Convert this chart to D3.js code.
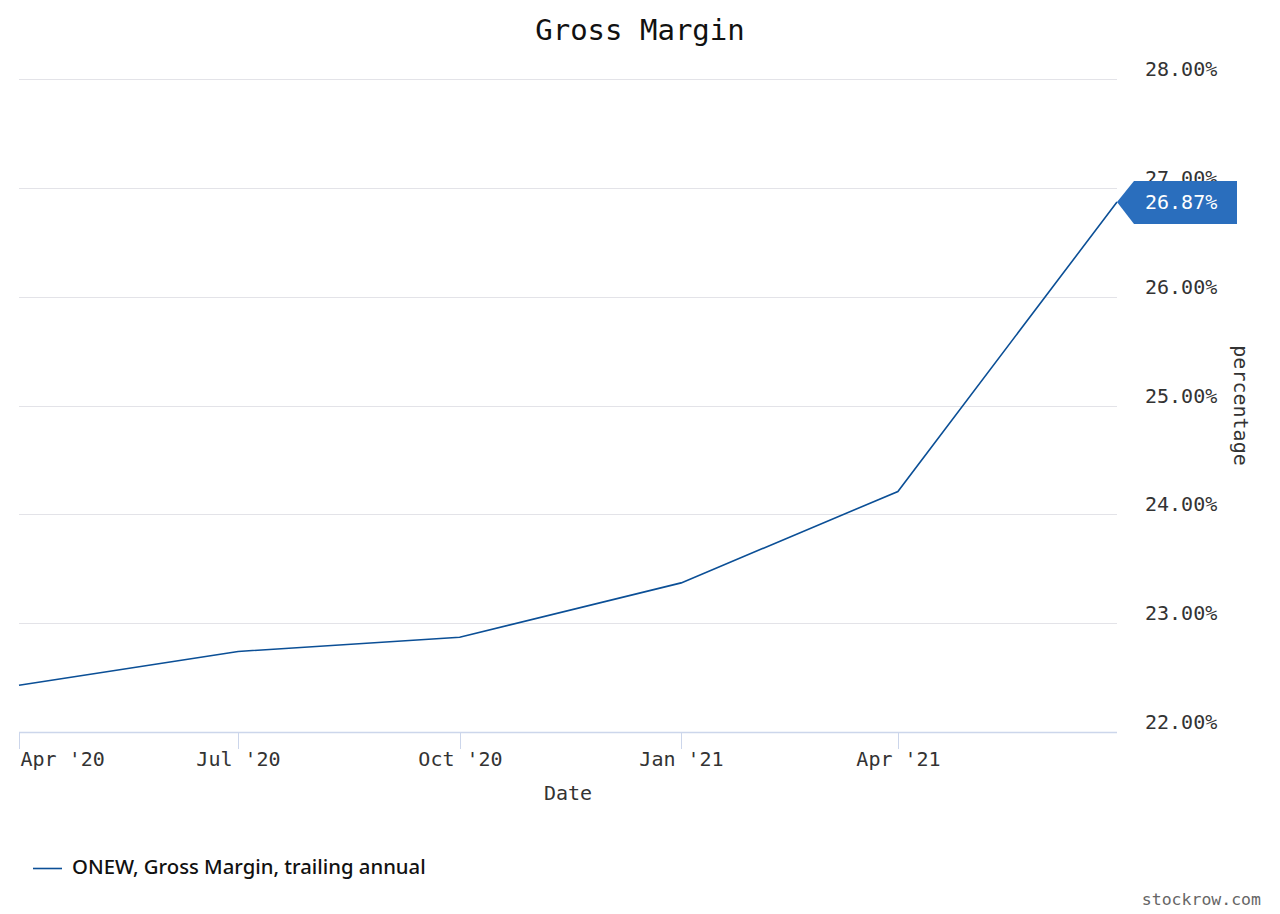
<!DOCTYPE html>
<html>
<head>
<meta charset="utf-8">
<script src="https://cdn.jsdelivr.net/npm/d3@7"></script>
<style>
  html, body { margin: 0; padding: 0; background: #fff; }
  svg { display: block; }
</style>
</head>
<body>
<svg id="chart" width="1280" height="914"></svg>
<script>
// ---- data ----
const dates = ["2020-04-01", "2020-07-01", "2020-10-01", "2021-01-01", "2021-04-01", "2021-07-01"];
const grossMargin = [22.43, 22.74, 22.87, 23.37, 24.21, 26.87];
const yTicks = [22, 23, 24, 25, 26, 27, 28];
const xTickDates = ["2020-04-01", "2020-07-01", "2020-10-01", "2021-01-01", "2021-04-01"];
const xTickLabels = ["Apr '20", "Jul '20", "Oct '20", "Jan '21", "Apr '21"];
const seriesName = "ONEW, Gross Margin, trailing annual";
const lastLabel = "26.87%";

(function () {
const parse = d3.utcParse("%Y-%m-%d");
const data = dates.map((d, i) => ({ date: parse(d), value: grossMargin[i] }));

const mono = "'DejaVu Sans Mono', 'Liberation Mono', monospace";
const svg = d3.select("#chart");

const pLeft = 19, pRight = 1117, pTop = 79, pBottom = 732;

const x = d3.scaleUtc()
  .domain([parse("2020-04-01"), parse("2021-07-01")])
  .range([pLeft, pRight]);
const y = d3.scaleLinear().domain([22, 28]).range([pBottom, pTop]);

// title
svg.append("text")
  .attr("x", 640).attr("y", 40)
  .attr("text-anchor", "middle")
  .attr("font-family", mono).attr("font-size", 29)
  .attr("fill", "#111")
  .text("Gross Margin");

// gridlines
svg.append("g").selectAll("line")
  .data(yTicks.filter(t => t !== 22))
  .join("line")
  .attr("x1", pLeft).attr("x2", pRight)
  .attr("y1", d => Math.round(y(d)) + 0.5).attr("y2", d => Math.round(y(d)) + 0.5)
  .attr("stroke", "#e3e3e8").attr("stroke-width", 1);

// y labels (right)
svg.append("g").selectAll("text")
  .data(yTicks)
  .join("text")
  .attr("x", 1145)
  .attr("y", d => y(d) - 3)
  .attr("font-family", mono).attr("font-size", 20)
  .attr("fill", "#333")
  .text(d => d3.format(".2f")(d) + "%");

// x axis line
svg.append("line")
  .attr("x1", pLeft).attr("x2", pRight)
  .attr("y1", pBottom + 0.5).attr("y2", pBottom + 0.5)
  .attr("stroke", "#ccd6eb").attr("stroke-width", 1.5);

// x ticks
const xt = svg.append("g");
xTickDates.forEach((d, i) => {
  const px = Math.round(x(parse(d))) + 0.5;
  xt.append("line")
    .attr("x1", px).attr("x2", px)
    .attr("y1", pBottom).attr("y2", pBottom + 17)
    .attr("stroke", "#ccd6eb").attr("stroke-width", 1);
  xt.append("text")
    .attr("x", i === 0 ? px + 1 : px)
    .attr("y", 766)
    .attr("text-anchor", i === 0 ? "start" : "middle")
    .attr("font-family", mono).attr("font-size", 20)
    .attr("fill", "#333")
    .text(xTickLabels[i]);
});

// x axis title
svg.append("text")
  .attr("x", (pLeft + pRight) / 2).attr("y", 800)
  .attr("text-anchor", "middle")
  .attr("font-family", mono).attr("font-size", 20)
  .attr("fill", "#333")
  .text("Date");

// y axis title
svg.append("text")
  .attr("transform", `translate(1234, ${(pTop + pBottom) / 2}) rotate(90)`)
  .attr("text-anchor", "middle")
  .attr("font-family", mono).attr("font-size", 20)
  .attr("fill", "#333")
  .text("percentage");

// line
const line = d3.line().x(d => x(d.date)).y(d => y(d.value));
svg.append("path")
  .datum(data)
  .attr("fill", "none")
  .attr("stroke", "#0b4f96")
  .attr("stroke-width", 1.6)
  .attr("d", line);

// last value label
const last = data[data.length - 1];
const lx = x(last.date), ly = y(last.value);
svg.append("path")
  .attr("d", `M${lx},${ly} L${lx + 17},${ly - 21} L1237,${ly - 21} L1237,${ly + 22} L${lx + 17},${ly + 22} Z`)
  .attr("fill", "#2a6ebd");
svg.append("text")
  .attr("x", 1145).attr("y", ly + 7)
  .attr("font-family", mono).attr("font-size", 20)
  .attr("fill", "#fff")
  .text(lastLabel);

// legend
svg.append("line")
  .attr("x1", 33).attr("x2", 62)
  .attr("y1", 868.5).attr("y2", 868.5)
  .attr("stroke", "#0b4f96").attr("stroke-width", 1.6);
svg.append("text")
  .attr("x", 72).attr("y", 874)
  .attr("font-family", "'Noto Sans', 'Open Sans', sans-serif")
  .attr("font-size", 20.3).attr("font-weight", 500)
  .attr("fill", "#111")
  .text(seriesName);

// credit
svg.append("text")
  .attr("x", 1261).attr("y", 905)
  .attr("text-anchor", "end")
  .attr("font-family", mono).attr("font-size", 16.5)
  .attr("fill", "#666")
  .text("stockrow.com");
})();
</script>
</body>
</html>
